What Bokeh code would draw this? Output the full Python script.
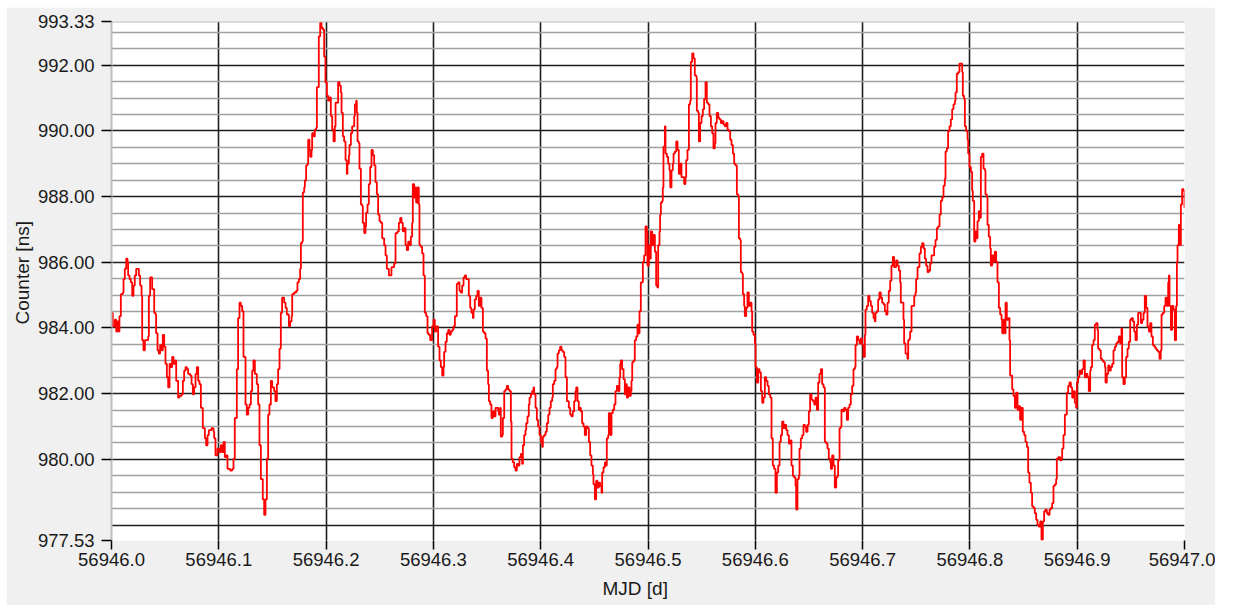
from bokeh.plotting import figure
from bokeh.models import Range1d, FixedTicker, NumeralTickFormatter, Span, Spacer, Title
from bokeh.layouts import column, row
from bokeh.embed import file_html
from bokeh.resources import INLINE

MJD_START = 56946.0

# Counter readings: (fraction of day after MJD_START, counter value in ns)
seg_a = [
    (0.0000, 984.46), (0.0012, 984.05), (0.0031, 984.25), (0.0044, 983.89), (0.0056, 984.20), (0.0068, 983.89), (0.0074, 984.36), (0.0087, 984.46), (0.0087, 985.03), (0.0106, 985.08),
    (0.0112, 985.49), (0.0124, 985.80), (0.0137, 986.11), (0.0149, 986.01), (0.0155, 985.60), (0.0168, 985.49), (0.0180, 985.39), (0.0193, 984.98), (0.0205, 985.29), (0.0217, 985.60),
    (0.0230, 985.80), (0.0242, 985.80), (0.0255, 985.60), (0.0267, 985.29), (0.0280, 984.98), (0.0286, 983.63), (0.0298, 983.32), (0.0311, 983.63), (0.0329, 983.63), (0.0342, 983.74),
    (0.0348, 984.98), (0.0360, 985.54), (0.0379, 985.18), (0.0398, 984.46), (0.0410, 984.41), (0.0416, 983.84), (0.0429, 983.32), (0.0441, 983.22), (0.0453, 983.48), (0.0466, 983.32),
    (0.0478, 983.79), (0.0491, 983.43), (0.0503, 982.91), (0.0516, 982.50), (0.0528, 982.19), (0.0541, 982.91), (0.0553, 982.81), (0.0565, 983.12), (0.0578, 982.91), (0.0596, 983.01),
    (0.0603, 982.39), (0.0621, 981.88), (0.0634, 981.93), (0.0652, 981.98), (0.0665, 982.39), (0.0677, 982.70), (0.0690, 982.81), (0.0702, 982.75), (0.0714, 982.60), (0.0733, 982.55),
    (0.0746, 982.29), (0.0758, 981.98), (0.0770, 982.19), (0.0783, 982.60), (0.0795, 982.81), (0.0808, 982.39), (0.0820, 982.29), (0.0833, 981.57), (0.0845, 981.57), (0.0851, 980.95),
    (0.0870, 980.64), (0.0882, 980.43), (0.0895, 980.74), (0.0907, 980.89), (0.0932, 980.95), (0.0951, 980.84), (0.0957, 980.64), (0.0969, 980.12), (0.0988, 980.33), (0.1006, 980.22),
    (0.1019, 980.43), (0.1031, 980.22), (0.1044, 980.53), (0.1056, 980.07), (0.1069, 980.12), (0.1081, 979.71), (0.1106, 979.66), (0.1125, 979.71), (0.1137, 980.02), (0.1149, 981.26),
    (0.1168, 982.75), (0.1180, 984.30), (0.1193, 984.77), (0.1205, 984.67), (0.1218, 984.51), (0.1230, 983.12), (0.1249, 981.67), (0.1261, 981.36), (0.1274, 981.57), (0.1286, 981.67),
    (0.1299, 982.08), (0.1311, 982.70), (0.1323, 983.01), (0.1336, 982.60), (0.1354, 982.29), (0.1367, 981.67), (0.1379, 980.43), (0.1392, 979.40), (0.1410, 978.78), (0.1423, 978.31),
    (0.1435, 978.78), (0.1448, 980.02), (0.1460, 981.36), (0.1472, 981.67), (0.1485, 982.39), (0.1497, 982.19), (0.1516, 982.08), (0.1528, 981.77), (0.1541, 982.29), (0.1553, 982.75),
    (0.1566, 983.37), (0.1578, 984.46), (0.1590, 984.92), (0.1609, 984.77), (0.1622, 984.61), (0.1634, 984.41), (0.1653, 984.05),
]

seg_b = [
    (0.1665, 984.20), (0.1678, 984.36), (0.1684, 985.03), (0.1702, 985.08), (0.1721, 985.13), (0.1733, 985.39), (0.1746, 985.49), (0.1758, 985.80), (0.1765, 986.58), (0.1777, 986.63),
    (0.1783, 988.13), (0.1796, 988.28), (0.1802, 988.49), (0.1814, 988.95), (0.1827, 989.00), (0.1833, 989.73), (0.1845, 989.42), (0.1852, 989.21), (0.1864, 989.42), (0.1870, 989.93),
    (0.1883, 989.83), (0.1895, 990.04), (0.1907, 990.09), (0.1914, 991.33), (0.1926, 991.33), (0.1932, 992.88), (0.1945, 993.30), (0.1957, 993.14), (0.1970, 993.08), (0.1982, 992.26),
    (0.1994, 991.48), (0.2007, 991.07), (0.2019, 990.92), (0.2032, 991.02), (0.2044, 990.45), (0.2057, 990.04), (0.2069, 989.68), (0.2081, 990.14), (0.2088, 990.86), (0.2100, 990.86),
    (0.2112, 991.48), (0.2125, 991.38), (0.2137, 991.17), (0.2144, 990.55), (0.2156, 989.83), (0.2168, 989.68), (0.2181, 989.11), (0.2193, 988.69), (0.2199, 989.00), (0.2212, 989.26),
    (0.2218, 989.57), (0.2231, 989.93), (0.2243, 990.14), (0.2262, 990.45), (0.2268, 990.81), (0.2280, 990.92), (0.2286, 990.55), (0.2293, 989.68), (0.2305, 989.62), (0.2311, 988.85),
    (0.2324, 987.76), (0.2336, 987.71), (0.2342, 987.20), (0.2355, 986.89), (0.2367, 987.09), (0.2373, 987.51), (0.2386, 987.76), (0.2398, 988.38), (0.2411, 988.90), (0.2423, 989.42),
    (0.2436, 989.26), (0.2448, 988.95), (0.2460, 988.44), (0.2473, 988.07), (0.2485, 987.45), (0.2498, 987.25), (0.2510, 987.20), (0.2523, 986.73), (0.2541, 986.52), (0.2554, 986.21),
    (0.2566, 985.80), (0.2585, 985.60), (0.2597, 985.60), (0.2609, 985.85), (0.2622, 985.85), (0.2634, 985.96), (0.2647, 986.89), (0.2665, 986.94), (0.2678, 987.20), (0.2690, 987.35),
    (0.2703, 987.20), (0.2715, 986.94), (0.2728, 987.04), (0.2740, 986.52), (0.2752, 986.37), (0.2765, 986.63), (0.2777, 986.52), (0.2790, 986.78), (0.2802, 987.20), (0.2808, 988.38),
    (0.2821, 987.97), (0.2827, 988.28), (0.2839, 987.82), (0.2852, 988.28), (0.2864, 987.76), (0.2870, 986.52), (0.2883, 986.47), (0.2895, 986.27), (0.2908, 985.60), (0.2920, 984.46),
    (0.2933, 984.36), (0.2945, 983.84), (0.2957, 983.79), (0.2970, 983.63), (0.2982, 983.63), (0.2988, 984.05), (0.3001, 984.25), (0.3013, 983.89), (0.3026, 984.05), (0.3038, 984.05),
    (0.3044, 983.43), (0.3057, 983.01), (0.3069, 982.81), (0.3082, 982.55), (0.3094, 982.81), (0.3100, 983.27), (0.3113, 983.58), (0.3125, 983.84), (0.3138, 983.94), (0.3150, 983.79),
    (0.3162, 983.89), (0.3175, 983.94), (0.3187, 984.05), (0.3200, 984.36), (0.3212, 984.36), (0.3218, 985.34), (0.3231, 985.39), (0.3243, 985.13), (0.3256, 985.08), (0.3268, 985.29),
    (0.3281, 985.54), (0.3293, 985.60), (0.3305, 985.49), (0.3318, 985.49), (0.3330, 984.98),
]

seg_c = [
    (0.3343, 984.61), (0.3355, 984.46), (0.3368, 984.30), (0.3374, 984.56), (0.3386, 984.87), (0.3399, 984.98), (0.3411, 985.13), (0.3423, 984.67), (0.3436, 984.92), (0.3448, 984.61),
    (0.3461, 983.89), (0.3473, 983.84), (0.3486, 983.68), (0.3498, 982.70), (0.3510, 982.29), (0.3517, 981.77), (0.3529, 981.67), (0.3541, 981.26), (0.3554, 981.46), (0.3566, 981.31),
    (0.3579, 981.57), (0.3591, 981.57), (0.3604, 981.46), (0.3610, 981.36), (0.3622, 981.57), (0.3628, 980.69), (0.3641, 980.74), (0.3647, 981.26), (0.3660, 982.08), (0.3672, 982.13),
    (0.3684, 982.24), (0.3697, 982.13), (0.3709, 982.08), (0.3722, 981.15), (0.3728, 980.02), (0.3740, 979.91), (0.3753, 979.76), (0.3765, 979.66), (0.3778, 979.86), (0.3790, 979.81),
    (0.3802, 980.07), (0.3815, 980.17), (0.3827, 979.86), (0.3834, 980.43), (0.3846, 980.74), (0.3858, 980.89), (0.3865, 981.10), (0.3877, 981.31), (0.3889, 981.67), (0.3896, 981.88),
    (0.3908, 981.98), (0.3920, 982.08), (0.3933, 982.19), (0.3939, 981.98), (0.3952, 981.57), (0.3964, 981.20), (0.3976, 981.00), (0.3989, 980.74), (0.4001, 980.53), (0.4014, 980.38),
    (0.4020, 980.69), (0.4032, 980.74), (0.4045, 980.84), (0.4057, 981.10), (0.4070, 981.36), (0.4082, 981.57), (0.4094, 981.77), (0.4107, 981.88), (0.4113, 982.29), (0.4126, 982.39),
    (0.4138, 982.75), (0.4150, 982.81), (0.4157, 983.22), (0.4169, 983.32), (0.4181, 983.43), (0.4194, 983.32), (0.4206, 983.27), (0.4219, 983.12), (0.4231, 982.50), (0.4244, 981.77),
    (0.4262, 981.57), (0.4275, 981.36), (0.4287, 981.31), (0.4299, 981.46), (0.4312, 981.77), (0.4324, 982.08), (0.4331, 982.19), (0.4343, 981.77), (0.4355, 981.51), (0.4368, 981.57),
    (0.4374, 981.46), (0.4386, 981.10), (0.4399, 981.00), (0.4411, 980.74), (0.4424, 981.00), (0.4436, 980.95), (0.4449, 980.53), (0.4461, 980.12), (0.4473, 979.81), (0.4486, 979.55),
    (0.4492, 979.24), (0.4505, 978.78), (0.4517, 979.35), (0.4529, 979.14), (0.4542, 979.29), (0.4554, 979.19), (0.4567, 978.98), (0.4573, 979.60), (0.4585, 979.76), (0.4598, 979.91),
    (0.4610, 979.81), (0.4616, 980.64), (0.4629, 980.74), (0.4635, 981.41), (0.4648, 980.74), (0.4660, 981.41), (0.4672, 981.51), (0.4685, 981.67), (0.4697, 982.08), (0.4710, 982.24),
    (0.4722, 982.08), (0.4734, 982.50), (0.4741, 982.91), (0.4747, 983.01), (0.4759, 982.75), (0.4772, 982.44), (0.4784, 981.98), (0.4790, 982.29), (0.4803, 981.88), (0.4815, 982.19),
    (0.4828, 981.93), (0.4840, 982.08), (0.4846, 982.39), (0.4853, 982.96), (0.4865, 983.01), (0.4877, 983.63), (0.4890, 983.74), (0.4902, 984.10), (0.4915, 983.84), (0.4921, 984.51),
    (0.4933, 985.39), (0.4946, 985.39), (0.4952, 986.01), (0.4964, 986.21), (0.4977, 987.09), (0.4989, 986.94), (0.4995, 985.90), (0.5008, 986.52), (0.5014, 986.11),
]

seg_d = [
    (0.5026, 986.94), (0.5039, 986.52), (0.5051, 986.83), (0.5064, 986.32), (0.5076, 985.29), (0.5089, 985.23), (0.5095, 986.52), (0.5107, 986.94), (0.5113, 987.45), (0.5120, 987.82),
    (0.5132, 987.87), (0.5138, 988.28), (0.5144, 989.52), (0.5157, 990.14), (0.5163, 989.31), (0.5176, 989.21), (0.5188, 989.00), (0.5200, 988.80), (0.5207, 988.28), (0.5219, 988.80),
    (0.5231, 989.00), (0.5238, 989.31), (0.5250, 989.37), (0.5263, 989.68), (0.5275, 989.42), (0.5287, 988.69), (0.5300, 989.00), (0.5312, 988.59), (0.5325, 988.59), (0.5337, 988.38),
    (0.5349, 988.59), (0.5356, 989.11), (0.5368, 989.42), (0.5381, 990.81), (0.5393, 990.92), (0.5399, 992.10), (0.5412, 992.36), (0.5424, 992.21), (0.5436, 991.69), (0.5449, 991.64),
    (0.5455, 990.61), (0.5468, 990.55), (0.5474, 989.68), (0.5486, 990.24), (0.5499, 990.45), (0.5511, 990.66), (0.5523, 990.97), (0.5536, 991.48), (0.5548, 990.86), (0.5561, 990.81),
    (0.5573, 990.45), (0.5586, 990.14), (0.5598, 989.93), (0.5610, 989.47), (0.5623, 989.62), (0.5629, 990.24), (0.5641, 990.55), (0.5654, 990.40), (0.5666, 990.35), (0.5679, 990.24),
    (0.5691, 990.30), (0.5704, 990.19), (0.5716, 990.14), (0.5728, 990.24), (0.5741, 990.04), (0.5753, 989.99), (0.5766, 989.73), (0.5778, 989.57), (0.5791, 989.31), (0.5803, 989.00),
    (0.5815, 988.95), (0.5828, 988.07), (0.5840, 988.02), (0.5847, 986.73), (0.5859, 986.68), (0.5865, 985.70), (0.5878, 985.65), (0.5884, 985.03), (0.5896, 984.67), (0.5902, 984.36),
    (0.5915, 984.61), (0.5927, 985.08), (0.5940, 984.67), (0.5952, 984.77), (0.5965, 984.51), (0.5971, 983.89), (0.5983, 983.79), (0.5996, 983.53), (0.6002, 982.81), (0.6014, 982.34),
    (0.6027, 982.75), (0.6039, 982.65), (0.6052, 982.08), (0.6064, 981.72), (0.6076, 981.88), (0.6089, 982.50), (0.6101, 982.39), (0.6114, 982.24), (0.6126, 981.98), (0.6139, 981.88),
    (0.6151, 980.64), (0.6163, 979.81), (0.6176, 979.71), (0.6188, 978.98), (0.6201, 979.60), (0.6213, 979.81), (0.6226, 980.53), (0.6238, 980.74), (0.6250, 981.15), (0.6263, 980.95),
    (0.6275, 981.05), (0.6288, 980.89), (0.6300, 980.74), (0.6313, 980.48), (0.6325, 980.58), (0.6337, 979.81), (0.6350, 979.50), (0.6362, 979.45), (0.6375, 979.19), (0.6381, 978.47),
    (0.6393, 979.40), (0.6406, 979.50), (0.6412, 980.33), (0.6424, 980.64), (0.6437, 980.74), (0.6449, 981.05), (0.6462, 981.00), (0.6474, 980.84), (0.6487, 981.05), (0.6499, 981.46),
    (0.6511, 981.98), (0.6524, 981.82), (0.6536, 981.77), (0.6549, 981.67), (0.6561, 981.88), (0.6574, 981.51), (0.6586, 982.34), (0.6598, 982.60), (0.6611, 982.75), (0.6623, 982.29),
    (0.6636, 982.19), (0.6648, 980.53), (0.6661, 980.48), (0.6673, 980.33), (0.6685, 980.02), (0.6698, 979.91),
]

seg_e = [
    (0.6704, 979.71), (0.6716, 980.12), (0.6729, 979.81), (0.6741, 979.14), (0.6754, 979.45), (0.6766, 979.50), (0.6772, 979.97), (0.6785, 980.95), (0.6797, 981.00), (0.6803, 981.51),
    (0.6816, 981.46), (0.6828, 981.57), (0.6841, 981.51), (0.6853, 981.20), (0.6865, 981.57), (0.6878, 981.67), (0.6890, 981.98), (0.6903, 982.24), (0.6915, 982.75), (0.6928, 982.81),
    (0.6934, 983.48), (0.6946, 983.74), (0.6959, 983.63), (0.6971, 983.53), (0.6983, 983.68), (0.6996, 983.48), (0.7008, 983.12), (0.7021, 983.79), (0.7027, 984.56), (0.7039, 984.67),
    (0.7052, 984.98), (0.7064, 984.82), (0.7077, 984.67), (0.7089, 984.46), (0.7102, 984.30), (0.7114, 984.20), (0.7120, 984.46), (0.7133, 984.51), (0.7145, 984.87), (0.7157, 985.08),
    (0.7170, 984.92), (0.7182, 984.77), (0.7195, 984.72), (0.7207, 984.51), (0.7220, 984.41), (0.7232, 984.77), (0.7244, 985.13), (0.7257, 985.44), (0.7269, 985.90), (0.7282, 986.16),
    (0.7294, 985.85), (0.7307, 985.85), (0.7313, 986.06), (0.7325, 985.90), (0.7338, 985.75), (0.7350, 985.39), (0.7356, 984.77), (0.7369, 984.77), (0.7381, 984.25), (0.7387, 983.53),
    (0.7400, 983.22), (0.7412, 983.22), (0.7418, 983.06), (0.7425, 983.63), (0.7437, 983.68), (0.7443, 983.89), (0.7456, 984.67), (0.7468, 984.67), (0.7481, 984.98), (0.7493, 985.08),
    (0.7499, 985.49), (0.7512, 985.85), (0.7524, 985.85), (0.7530, 986.27), (0.7543, 986.47), (0.7555, 986.58), (0.7568, 986.42), (0.7580, 986.11), (0.7592, 985.90), (0.7605, 985.70),
    (0.7617, 985.75), (0.7630, 985.96), (0.7642, 986.21), (0.7655, 986.21), (0.7667, 986.47), (0.7679, 986.68), (0.7692, 987.04), (0.7704, 987.09), (0.7717, 987.45), (0.7729, 987.87),
    (0.7742, 987.97), (0.7754, 988.33), (0.7766, 988.54), (0.7773, 989.37), (0.7785, 989.47), (0.7797, 989.99), (0.7810, 990.14), (0.7822, 990.35), (0.7835, 990.66), (0.7847, 990.81),
    (0.7860, 990.92), (0.7866, 991.17), (0.7878, 991.74), (0.7891, 991.79), (0.7903, 992.05), (0.7915, 992.05), (0.7928, 991.79), (0.7934, 991.07), (0.7946, 990.97), (0.7953, 990.14),
    (0.7965, 989.99), (0.7978, 989.73), (0.7984, 989.31), (0.7996, 988.90), (0.8009, 988.75), (0.8021, 988.18), (0.8027, 987.87), (0.8040, 986.63), (0.8052, 986.94), (0.8065, 986.73),
    (0.8071, 987.25), (0.8083, 987.56), (0.8096, 987.35), (0.8102, 989.21), (0.8114, 989.31), (0.8127, 988.85), (0.8139, 988.80), (0.8145, 988.07), (0.8158, 987.97), (0.8164, 987.14),
    (0.8176, 986.78), (0.8189, 986.42), (0.8195, 985.90), (0.8208, 986.21), (0.8220, 986.01), (0.8232, 986.32), (0.8245, 986.01), (0.8257, 985.39), (0.8270, 984.61), (0.8282, 984.41),
    (0.8295, 984.25), (0.8301, 983.84), (0.8313, 984.25), (0.8326, 983.84), (0.8332, 984.77), (0.8344, 984.25), (0.8357, 984.30), (0.8369, 983.63), (0.8375, 982.55),
]

seg_f = [
    (0.8394, 982.13), (0.8406, 981.93), (0.8419, 981.57), (0.8431, 982.03), (0.8444, 981.51), (0.8456, 981.62), (0.8468, 981.20), (0.8481, 981.57), (0.8493, 980.84), (0.8506, 980.74),
    (0.8518, 980.53), (0.8531, 980.38), (0.8543, 979.60), (0.8555, 979.29), (0.8568, 978.98), (0.8580, 978.57), (0.8593, 978.52), (0.8605, 978.36), (0.8618, 978.16), (0.8630, 978.00),
    (0.8642, 977.95), (0.8655, 978.11), (0.8667, 977.55), (0.8680, 978.11), (0.8692, 978.42), (0.8705, 978.47), (0.8717, 978.36), (0.8729, 978.31), (0.8742, 978.47), (0.8754, 978.52),
    (0.8767, 978.67), (0.8779, 979.19), (0.8792, 979.24), (0.8804, 979.40), (0.8810, 980.02), (0.8823, 980.07), (0.8841, 979.97), (0.8854, 980.02), (0.8860, 980.33), (0.8872, 980.74),
    (0.8885, 981.36), (0.8897, 981.36), (0.8903, 982.03), (0.8916, 982.24), (0.8928, 982.34), (0.8941, 982.19), (0.8953, 981.88), (0.8966, 982.08), (0.8978, 981.72), (0.8990, 981.57),
    (0.8997, 982.34), (0.9009, 982.50), (0.9021, 982.70), (0.9034, 982.60), (0.9046, 982.75), (0.9059, 983.01), (0.9071, 982.50), (0.9084, 982.60), (0.9096, 982.50), (0.9108, 982.08),
    (0.9121, 982.70), (0.9127, 982.81), (0.9139, 983.48), (0.9152, 983.63), (0.9164, 984.10), (0.9177, 984.15), (0.9189, 983.94), (0.9195, 983.37), (0.9208, 983.32), (0.9220, 983.06),
    (0.9233, 983.01), (0.9245, 982.96), (0.9258, 982.81), (0.9264, 982.34), (0.9276, 982.60), (0.9289, 982.86), (0.9301, 982.70), (0.9313, 982.81), (0.9326, 982.91), (0.9338, 983.32),
    (0.9351, 983.43), (0.9363, 983.53), (0.9376, 983.58), (0.9388, 983.74), (0.9400, 983.53), (0.9413, 983.99), (0.9419, 982.50), (0.9431, 982.29), (0.9444, 982.50), (0.9456, 983.12),
    (0.9469, 983.37), (0.9481, 983.58), (0.9494, 984.25), (0.9506, 984.30), (0.9519, 984.20), (0.9531, 983.89), (0.9543, 983.63), (0.9556, 984.10), (0.9568, 984.46), (0.9581, 984.46),
    (0.9593, 984.15), (0.9606, 984.25), (0.9618, 984.46), (0.9630, 984.98), (0.9643, 984.61), (0.9655, 984.05), (0.9668, 983.89), (0.9680, 984.15), (0.9692, 983.74), (0.9705, 983.48),
    (0.9717, 983.43), (0.9730, 983.37), (0.9742, 983.32), (0.9755, 983.27), (0.9767, 983.06), (0.9779, 983.32), (0.9786, 984.41), (0.9798, 984.46), (0.9811, 984.67), (0.9823, 984.92),
    (0.9835, 984.67), (0.9848, 985.39), (0.9854, 985.60), (0.9860, 984.67), (0.9873, 983.94), (0.9885, 984.67), (0.9897, 984.56), (0.9910, 983.63), (0.9922, 984.67), (0.9929, 986.01),
    (0.9935, 986.52), (0.9947, 987.14), (0.9960, 986.52), (0.9966, 987.76), (0.9978, 988.23), (0.9991, 988.18), (1.0000, 987.66),
]

# Axis tick positions and grid levels
y_label_ticks = [977.53, 980.0, 982.0, 984.0, 986.0, 988.0, 990.0, 992.0, 993.33]
y_major_grid = [978.0, 980.0, 982.0, 984.0, 986.0, 988.0, 990.0, 992.0]
y_minor_grid = [978.5, 979.0, 979.5, 980.5, 981.0, 981.5, 982.5, 983.0, 983.5, 984.5, 985.0, 985.5,
                986.5, 987.0, 987.5, 988.5, 989.0, 989.5, 990.5, 991.0, 991.5, 992.5, 993.0]
x_label_ticks = [56946.0, 56946.1, 56946.2, 56946.3, 56946.4, 56946.5, 56946.6, 56946.7, 56946.8, 56946.9, 56947.0]
x_grid = [56946.1, 56946.2, 56946.3, 56946.4, 56946.5, 56946.6, 56946.7, 56946.8, 56946.9]

segments = [seg_a, seg_b, seg_c, seg_d, seg_e, seg_f]
mjd = [MJD_START + t for seg in segments for t, _ in seg]
counter = [v for seg in segments for _, v in seg]

TEXT = "#1a1a1a"
FONT = "Liberation Sans"

p = figure(
    width=1209, height=598,
    x_range=Range1d(56946.0, 56947.0), y_range=Range1d(977.53, 993.33),
    output_backend="svg", toolbar_location=None,
    min_border_left=105, min_border_right=31, min_border_top=14, min_border_bottom=65,
    background_fill_color="white", border_fill_color="#f0f0f0",
)
p.outline_line_color = None

# grid: black majors, grey half-unit minors, black verticals
p.ygrid.ticker = FixedTicker(ticks=y_major_grid, minor_ticks=y_minor_grid)
p.ygrid.grid_line_color = "#1e1e1e"
p.ygrid.grid_line_width = 1.6
p.ygrid.minor_grid_line_color = "#a0a0a0"
p.ygrid.minor_grid_line_width = 1.6
p.xgrid.ticker = FixedTicker(ticks=x_grid)
p.xgrid.grid_line_color = "#1e1e1e"
p.xgrid.grid_line_width = 1.6

# top edge of the plot area
p.add_layout(Span(location=993.33, dimension="width", line_color="#b8b8b8", line_width=2))

# y axis
p.yaxis.ticker = FixedTicker(ticks=y_label_ticks)
p.yaxis.formatter = NumeralTickFormatter(format="0.00")
p.yaxis.axis_line_color = "#c0c0c0"
p.yaxis.axis_line_width = 2
p.yaxis.major_tick_line_color = "black"
p.yaxis.major_tick_line_width = 1.5
p.yaxis.major_tick_in = 0
p.yaxis.major_tick_out = 10
p.yaxis.minor_tick_line_color = None
p.yaxis.major_label_standoff = 7

# x axis
p.xaxis.ticker = FixedTicker(ticks=x_label_ticks)
p.xaxis.formatter = NumeralTickFormatter(format="0.0")
p.xaxis.axis_line_color = None
p.xaxis.major_tick_line_color = "black"
p.xaxis.major_tick_line_width = 1.5
p.xaxis.major_tick_in = 0
p.xaxis.major_tick_out = 9
p.xaxis.minor_tick_line_color = None
p.xaxis.major_label_standoff = 3

for ax in (p.xaxis, p.yaxis):
    ax.major_label_text_font = FONT
    ax.major_label_text_font_size = "18.5px"
    ax.major_label_text_color = TEXT

# axis titles
x_title = Title(text="MJD [d]", align="left", offset=491, standoff=14,
                text_font=FONT, text_font_size="19px", text_font_style="normal", text_color=TEXT)
y_title = Title(text="Counter [ns]", align="left", offset=216, standoff=4,
                text_font=FONT, text_font_size="19px", text_font_style="normal", text_color=TEXT)
p.add_layout(x_title, "below")
p.add_layout(y_title, "left")

p.step(mjd, counter, mode="after", line_color="#ff0000", line_width=1.8)

layout = column(Spacer(width=1215, height=7), row(Spacer(width=6, height=598), p))

open("out.html", "w").write(file_html(layout, INLINE))
